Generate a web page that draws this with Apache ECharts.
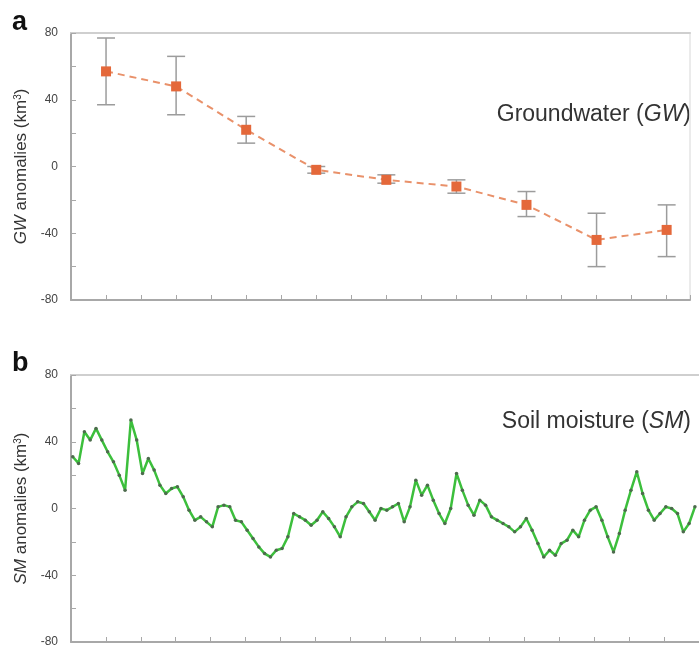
<!DOCTYPE html>
<html><head><meta charset="utf-8">
<script src="https://cdn.jsdelivr.net/npm/echarts@6/dist/echarts.min.js"></script>
<style>html,body{margin:0;padding:0;background:#fff}#c{width:699px;height:649px}</style>
</head><body><div id="c"></div>
<script>
// Groundwater annual anomalies (x in months from start)
const gwMonths = [6, 18, 30, 42, 54, 66, 78, 90, 102];
const gwValues = [57, 48, 22, -2, -8, -12, -23, -44, -38];
const gwLow    = [37, 31, 14, -4, -10, -16, -30, -60, -54];
const gwHigh   = [77, 66, 30, 0, -5, -8, -15, -28, -23];
// Soil moisture monthly anomalies
const smValues = [31,27,46,41,48,41,34,28,20,11,53,41,21,30,23,14,9,12,13,7,-1,-7,-5,-8,-11,1,2,1,-7,-8,-13,-18,-23,-27,-29,-25,-24,-17,-3,-5,-7,-10,-7,-2,-6,-11,-17,-5,1,4,3,-2,-7,0,-1,1,3,-8,1,17,8,14,5,-3,-9,0,21,11,2,-4,5,2,-5,-7,-9,-11,-14,-11,-6,-13,-21,-29,-25,-28,-21,-19,-13,-17,-7,-1,1,-7,-17,-26,-15,-1,11,22,9,-1,-7,-3,1,0,-3,-14,-9,1];
const yTicks = [-80, -40, 0, 40, 80];

const smData = smValues.map((v, i) => [i + 0.3, v]);
const gwData = gwMonths.map((m, i) => [m, gwValues[i]]);
const errData = gwMonths.map((m, i) => [m, gwLow[i], gwHigh[i]]);

const FONT = "'Liberation Sans',Arial,sans-serif";
const axisGray = '#a8a8a8';

function yAx(gi, nm) {
  return {
    type: 'value', gridIndex: gi, min: -80, max: 80, interval: 20,
    axisLine: {show: true, lineStyle: {color: axisGray, width: 2}},
    axisTick: {show: true, inside: true, length: 5, lineStyle: {color: axisGray, width: 1}},
    axisLabel: {margin: 13, color: '#444', fontSize: 12, fontFamily: FONT,
      formatter: v => yTicks.indexOf(v) >= 0 ? String(v) : ''},
    splitLine: {show: false},
    name: nm, nameLocation: 'middle', nameGap: 41, nameRotate: 90,
    nameTextStyle: {color: '#333', fontSize: 17, fontFamily: FONT,
      rich: {i: {fontStyle: 'italic', color: '#333', fontSize: 17, fontFamily: FONT},
             s: {fontSize: 10, color: '#333', verticalAlign: 'top', fontFamily: FONT, padding:[0,0,7,0]}}}
  };
}
function xAx(gi, max) {
  return {
    type: 'value', gridIndex: gi, min: 0, max: max, interval: 6, position: 'bottom',
    axisLine: {show: true, onZero: false, lineStyle: {color: axisGray, width: 2}},
    axisTick: {show: true, inside: true, length: 5, lineStyle: {color: axisGray, width: 1}},
    axisLabel: {show: false}, splitLine: {show: false}
  };
}
function topAx(gi, max) {
  return {
    type: 'value', gridIndex: gi, position: 'top', min: 0, max: max,
    axisLine: {show: true, onZero: false, lineStyle: {color: '#cfcfcf', width: 2}},
    axisTick: {show: false}, axisLabel: {show: false}, splitLine: {show: false}
  };
}

const chart = echarts.init(document.getElementById('c'));
chart.setOption({
  animation: false,
  backgroundColor: '#fff',
  grid: [
    {left: 71, top: 33, width: 619, height: 267},
    {left: 71, top: 375, width: 630, height: 267}
  ],
  xAxis: [xAx(0, 106), xAx(1, 108), topAx(0, 106), topAx(1, 108)],
  yAxis: [
    yAx(0, '{i|GW} anomalies (km{s|3})'),
    yAx(1, '{i|SM} anomalies (km{s|3})'),
    {type: 'value', gridIndex: 0, position: 'right', min: -80, max: 80,
     axisLine: {show: true, onZero: false, lineStyle: {color: '#e4e4e4', width: 1.5}},
     axisTick: {show: false}, axisLabel: {show: false}, splitLine: {show: false}}
  ],
  graphic: [
    {type: 'text', left: 12, top: 9, style: {text: 'a', font: 'bold 27px "Liberation Sans", Arial, sans-serif', fill: '#111'}},
    {type: 'text', left: 12, top: 350, style: {text: 'b', font: 'bold 27px "Liberation Sans", Arial, sans-serif', fill: '#111'}},
    {type: 'text', right: 8, top: 103, style: {
      text: 'Groundwater ({i|GW})', fill: '#333', fontSize: 23, fontFamily: FONT,
      rich: {i: {fontStyle: 'italic', fontSize: 23, fontFamily: FONT, fill: '#333'}}}},
    {type: 'text', right: 8, top: 410, style: {
      text: 'Soil moisture ({i|SM})', fill: '#333', fontSize: 23, fontFamily: FONT,
      rich: {i: {fontStyle: 'italic', fontSize: 23, fontFamily: FONT, fill: '#333'}}}}
  ],
  series: [
    {
      type: 'custom', xAxisIndex: 0, yAxisIndex: 0, data: errData, z: 1,
      renderItem: function (params, api) {
        const x = api.value(0);
        const lo = api.coord([x, api.value(1)]);
        const hi = api.coord([x, api.value(2)]);
        const hw = 9;
        const st = {stroke: '#9c9c9c', lineWidth: 1.5};
        return {type: 'group', children: [
          {type: 'line', shape: {x1: lo[0], y1: lo[1], x2: hi[0], y2: hi[1]}, style: st},
          {type: 'line', shape: {x1: lo[0] - hw, y1: lo[1], x2: lo[0] + hw, y2: lo[1]}, style: st},
          {type: 'line', shape: {x1: hi[0] - hw, y1: hi[1], x2: hi[0] + hw, y2: hi[1]}, style: st}
        ]};
      }
    },
    {
      type: 'line', xAxisIndex: 0, yAxisIndex: 0, data: gwData, z: 3,
      lineStyle: {color: '#e9916a', width: 2, type: [7, 5]},
      symbol: 'rect', symbolSize: 10,
      itemStyle: {color: '#e4683a'}
    },
    {
      type: 'line', xAxisIndex: 1, yAxisIndex: 1, data: smData, z: 3,
      lineStyle: {color: '#3cbf3c', width: 2.5},
      symbol: 'circle', symbolSize: 3.5, showSymbol: true,
      itemStyle: {color: '#4d6b4d', borderWidth: 0}
    }
  ]
});
</script></body></html>
